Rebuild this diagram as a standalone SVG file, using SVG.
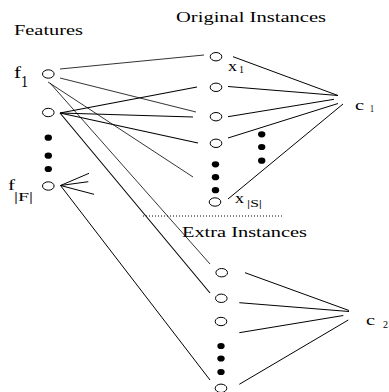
<svg xmlns="http://www.w3.org/2000/svg" width="389" height="392" viewBox="0 0 389 392">
<style>
.n{fill:#fff;stroke:#000;stroke-width:1}
.d{fill:#000}
.e{stroke:#000;stroke-width:1;fill:none}
.t{stroke:#000;stroke-width:0.8;fill:none}
.k{stroke:#000;stroke-width:1.1;fill:none}
text{font-family:"Liberation Serif","Times New Roman",serif;fill:#000}
</style>
<rect width="389" height="392" fill="#fff"/>
<g id="titles">
<text x="14" y="35" font-size="14" textLength="69" lengthAdjust="spacingAndGlyphs">Features</text>
<text x="176" y="22" font-size="14" textLength="150" lengthAdjust="spacingAndGlyphs">Original Instances</text>
<text x="182" y="237" font-size="14" textLength="125" lengthAdjust="spacingAndGlyphs">Extra Instances</text>
</g>
<g id="connectors">
<line class="t" x1="60" y1="69" x2="204" y2="55"/>
<line class="t" x1="60" y1="78" x2="196" y2="112"/>
<line class="t" x1="48" y1="82" x2="193" y2="177"/>
<line class="t" x1="50" y1="83" x2="210" y2="264"/>
<line class="k" x1="60" y1="113" x2="197" y2="87"/>
<line class="k" x1="60" y1="113" x2="193" y2="117"/>
<line class="k" x1="60" y1="113" x2="198" y2="143"/>
<line class="k" x1="60" y1="113" x2="210" y2="293"/>
<line class="e" x1="60.5" y1="185.5" x2="89" y2="173.3"/>
<line class="e" x1="60.5" y1="185.5" x2="88.3" y2="181.7"/>
<line class="e" x1="60.5" y1="185.5" x2="94" y2="194.3"/>
<line class="e" x1="60.5" y1="185.5" x2="210" y2="380"/>
<line class="e" x1="233" y1="56.7" x2="338" y2="95.5"/>
<line class="e" x1="228" y1="86.5" x2="338" y2="95.5"/>
<line class="e" x1="228" y1="116.7" x2="334" y2="99.3"/>
<line class="e" x1="228" y1="138" x2="338" y2="103.5"/>
<line class="e" x1="228" y1="199" x2="343" y2="104"/>
<line class="e" x1="245" y1="272.7" x2="349" y2="310.5"/>
<line class="e" x1="239.3" y1="302.7" x2="349" y2="311.5"/>
<line class="e" x1="239.3" y1="332.7" x2="343.3" y2="315.5"/>
<line class="e" x1="239.3" y1="384.3" x2="348.3" y2="320"/>
<line x1="143" y1="216" x2="282" y2="216" stroke="#000" stroke-width="1" stroke-dasharray="1,2"/>
</g>
<g id="f1">
<ellipse class="n" cx="48.3" cy="74" rx="5.8" ry="4.2"/>
<text x="14" y="78" font-size="16" textLength="7" lengthAdjust="spacingAndGlyphs">f</text>
<text x="21" y="87" font-size="16" textLength="7" lengthAdjust="spacingAndGlyphs">1</text>
</g>
<g id="f2">
<ellipse class="n" cx="48.3" cy="112.5" rx="5.8" ry="4.2"/>
</g>
<g id="fF">
<ellipse class="n" cx="48.3" cy="186" rx="5.8" ry="4.2"/>
<text x="8" y="190" font-size="15" textLength="7" lengthAdjust="spacingAndGlyphs">f</text>
<text x="14" y="201" font-size="13" textLength="19" lengthAdjust="spacingAndGlyphs">|F|</text>
</g>
<g id="x1">
<ellipse class="n" cx="216" cy="56.7" rx="5.8" ry="4.2"/>
<text x="228" y="71" font-size="14" textLength="9" lengthAdjust="spacingAndGlyphs">x</text>
<text x="239" y="73" font-size="10" textLength="5" lengthAdjust="spacingAndGlyphs">1</text>
</g>
<g id="x2"><ellipse class="n" cx="216" cy="87.3" rx="5.8" ry="4.2"/></g>
<g id="x3"><ellipse class="n" cx="216" cy="116.7" rx="5.8" ry="4.2"/></g>
<g id="x4"><ellipse class="n" cx="216" cy="143.3" rx="5.8" ry="4.2"/></g>
<g id="xS">
<ellipse class="n" cx="215" cy="202" rx="5.8" ry="4.2"/>
<text x="235" y="203" font-size="14" textLength="9" lengthAdjust="spacingAndGlyphs">x</text>
<text x="247" y="207" font-size="10" textLength="15" lengthAdjust="spacingAndGlyphs">|S|</text>
</g>
<g id="c1">
<text x="355" y="110" font-size="15" textLength="9" lengthAdjust="spacingAndGlyphs">c</text>
<text x="370" y="112" font-size="10" textLength="4" lengthAdjust="spacingAndGlyphs">1</text>
</g>
<g id="e1"><ellipse class="n" cx="221.7" cy="272.7" rx="5.8" ry="4.2"/></g>
<g id="e2"><ellipse class="n" cx="221.3" cy="298.3" rx="5.8" ry="4.2"/></g>
<g id="e3"><ellipse class="n" cx="221" cy="321.5" rx="5.8" ry="4.2"/></g>
<g id="eN"><ellipse class="n" cx="221" cy="388.3" rx="5.8" ry="4.2"/></g>
<g id="c2">
<text x="366" y="325" font-size="15" textLength="9" lengthAdjust="spacingAndGlyphs">c</text>
<text x="383" y="328" font-size="10" textLength="5" lengthAdjust="spacingAndGlyphs">2</text>
</g>
<g id="ellipses">
<ellipse class="d" cx="48.3" cy="137.7" rx="3.7" ry="3.1"/>
<ellipse class="d" cx="48.3" cy="155.7" rx="3.7" ry="3.1"/>
<ellipse class="d" cx="48.3" cy="169" rx="3.7" ry="3.1"/>
<ellipse class="d" cx="215.5" cy="164.3" rx="3.7" ry="3.1"/>
<ellipse class="d" cx="215.5" cy="177.2" rx="3.7" ry="3.1"/>
<ellipse class="d" cx="215.5" cy="190.2" rx="3.7" ry="3.1"/>
<ellipse class="d" cx="261.7" cy="134.3" rx="3.7" ry="3.1"/>
<ellipse class="d" cx="261.7" cy="147" rx="3.7" ry="3.1"/>
<ellipse class="d" cx="261.7" cy="160.7" rx="3.7" ry="3.1"/>
<ellipse class="d" cx="221" cy="346" rx="3.7" ry="3.1"/>
<ellipse class="d" cx="221" cy="358.5" rx="3.7" ry="3.1"/>
<ellipse class="d" cx="221" cy="372" rx="3.7" ry="3.1"/>
</g>
</svg>
